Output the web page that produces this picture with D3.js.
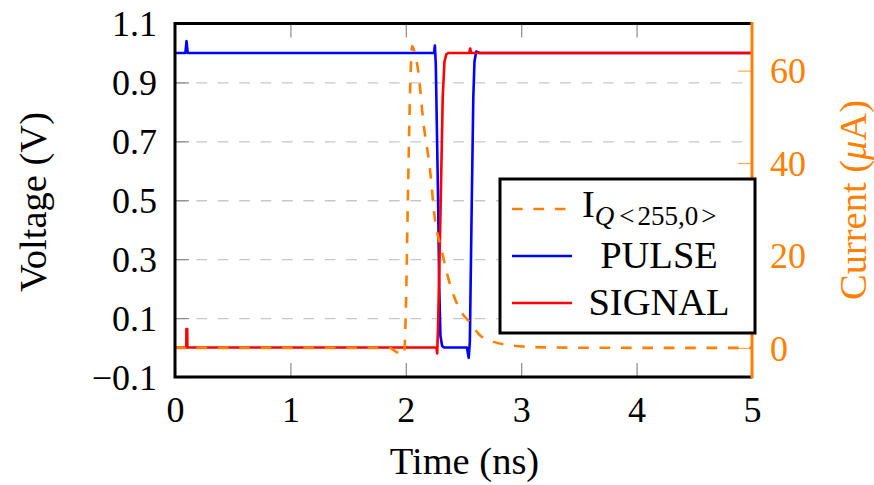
<!DOCTYPE html>
<html>
<head>
<meta charset="utf-8">
<script src="https://cdn.jsdelivr.net/npm/d3@7"></script>
<style>
  html, body { margin: 0; padding: 0; background: #fff; }
  svg text { font-family: "Liberation Serif", "Times New Roman", serif; }
</style>
</head>
<body>
<svg id="chart" width="874" height="485"></svg>
<script>
// Time axis (ns)
const timeTicks = [0, 1, 2, 3, 4, 5];
// Voltage axis (V)
const voltTicks = [-0.1, 0.1, 0.3, 0.5, 0.7, 0.9, 1.1];
const voltGrid = [0.1, 0.3, 0.5, 0.7, 0.9];
// Current axis (µA)
const currTicks = [0, 20, 40, 60];

// PULSE waveform (V)
const pulseT = [0, 0.09, 0.10, 0.11, 2.245, 2.252, 2.26, 2.28, 2.29, 2.30, 2.315, 2.335, 2.53, 2.545, 2.555, 2.57, 2.585, 2.595, 2.61, 2.64, 5];
const pulseV = [1, 1, 1.04, 1, 1, 1.025, 0.96, 0.5, 0.2, 0.04, 0.005, 0, 0, -0.035, 0.02, 0.45, 0.85, 0.97, 1.005, 1, 1];

// SIGNAL waveform (V)
const signalT = [0, 0.098, 0.099, 0.106, 0.107, 2.265, 2.272, 2.28, 2.30, 2.32, 2.335, 2.35, 2.37, 2.55, 2.558, 2.566, 5];
const signalV = [0, 0, 0.063, 0.063, 0, 0, -0.02, 0.08, 0.45, 0.85, 0.97, 0.995, 1, 1, 1.015, 1, 1];

// Cell current I_Q<255,0> (µA)
const currT = [0, 1.86, 1.92, 1.985, 2.0, 2.02, 2.04, 2.055, 2.07, 2.09, 2.11, 2.15, 2.21, 2.25, 2.31, 2.38, 2.47, 2.56, 2.64, 2.76, 2.9, 3.05, 3.3, 3.7, 5];
const currI = [0, 0, -0.9, -1.5, 8, 35, 58, 65.3, 64.5, 62.5, 59.5, 49.3, 38.5, 28.3, 21.2, 14, 8.2, 5.4, 2.8, 1.3, 0.6, 0.25, 0.08, 0.02, 0];

const legendLabels = ["I", "PULSE", "SIGNAL"];

const ORANGE = "#ff8000", BLUE = "#0000ff", RED = "#ff0000";
const FS = 36;      // tick labels
const FS_T = 38.5;  // titles and legend

const svg = d3.select("#chart");
const L = 175, R = 752, T = 23.5, B = 377;

const x = d3.scaleLinear().domain([0, 5]).range([L, R]);
const y = d3.scaleLinear().domain([-0.1, 1.1]).range([B, T]);
const yc = d3.scaleLinear().domain([-6.3, 70.2]).range([B, T]);

// horizontal dashed grid
svg.append("g")
  .attr("transform", `translate(${L},0)`)
  .call(d3.axisLeft(y).tickValues(voltGrid).tickSize(-(R - L)).tickFormat(""))
  .call(g => g.select(".domain").remove())
  .call(g => g.selectAll("line").attr("stroke", "#c8c8c8").attr("stroke-width", 1.3).attr("stroke-dasharray", "10.7,10.7"));

function styleAxis(g, color, tickColor) {
  g.select(".domain").remove();
  g.selectAll("line").attr("stroke", tickColor).attr("stroke-width", 1.2);
  g.selectAll("text").attr("fill", color).attr("font-size", FS)
    .attr("font-family", "'Liberation Serif', 'Times New Roman', serif");
}

// left voltage axis
svg.append("g")
  .attr("transform", `translate(${L},0)`)
  .call(d3.axisLeft(y).tickValues(voltTicks).tickSize(-14).tickPadding(18)
    .tickFormat(d => d3.format(".1f")(d).replace("-", "\u2212")))
  .call(g => styleAxis(g, "#000", "#8a8a8a"))
  .call(g => g.selectAll("text").attr("dy", "0.34em"));

// bottom time axis
svg.append("g")
  .attr("transform", `translate(0,${B})`)
  .call(d3.axisBottom(x).tickValues(timeTicks).tickSize(-14).tickPadding(19).tickFormat(d3.format("d")))
  .call(g => styleAxis(g, "#000", "#8a8a8a"));

// top mirrored ticks
svg.append("g")
  .attr("transform", `translate(0,${T})`)
  .call(d3.axisTop(x).tickValues(timeTicks.slice(1, -1)).tickSize(-14).tickFormat(""))
  .call(g => styleAxis(g, "#000", "#8a8a8a"));

// right current axis
svg.append("g")
  .attr("transform", `translate(${R},0)`)
  .call(d3.axisRight(yc).tickValues(currTicks).tickSize(-14).tickPadding(18).tickFormat(d3.format("d")))
  .call(g => styleAxis(g, ORANGE, "#ffa650"))
  .call(g => g.selectAll("text").attr("dy", "0.34em"));

// waveforms
const vLine = d3.line().x(d => x(d[0])).y(d => y(d[1]));
const cLine = d3.line().x(d => x(d[0])).y(d => yc(d[1])).curve(d3.curveMonotoneX);

svg.append("path").datum(d3.zip(pulseT, pulseV))
  .attr("d", vLine).attr("fill", "none").attr("stroke", BLUE).attr("stroke-width", 2.6).attr("stroke-linejoin", "round");
svg.append("path").datum(d3.zip(signalT, signalV))
  .attr("d", vLine).attr("fill", "none").attr("stroke", RED).attr("stroke-width", 2.6).attr("stroke-linejoin", "round");
svg.append("path").datum(d3.zip(currT, currI))
  .attr("d", cLine).attr("fill", "none").attr("stroke", ORANGE).attr("stroke-width", 2.6)
  .attr("stroke-dasharray", "10.7,10.7");

// frame
svg.append("path")
  .attr("d", `M${R},${T}H${L}V${B}H${R}`)
  .attr("fill", "none").attr("stroke", "#000").attr("stroke-width", 3);
svg.append("line")
  .attr("x1", R).attr("x2", R).attr("y1", T - 1.5).attr("y2", B + 1.5)
  .attr("stroke", ORANGE).attr("stroke-width", 3);

// axis titles
svg.append("text")
  .attr("transform", `translate(33,202) rotate(-90)`)
  .attr("text-anchor", "middle").attr("dominant-baseline", "central")
  .attr("font-size", FS_T).text("Voltage (V)");
svg.append("text")
  .attr("x", (L + R) / 2 + 1).attr("y", 474)
  .attr("text-anchor", "middle").attr("font-size", FS_T).text("Time (ns)");
const cur = svg.append("text")
  .attr("transform", `translate(853,200) rotate(-90)`)
  .attr("text-anchor", "middle").attr("dominant-baseline", "central")
  .attr("font-size", FS_T).attr("fill", ORANGE);
cur.append("tspan").text("Current (");
cur.append("tspan").attr("font-style", "italic").text("\u03bc");
cur.append("tspan").text("A)");

// legend
const lg = svg.append("g");
lg.append("rect")
  .attr("x", 500).attr("y", 179).attr("width", 255).attr("height", 154)
  .attr("fill", "#fff").attr("stroke", "#000").attr("stroke-width", 3);
const rowY = [209, 256, 303];
const rowColor = [ORANGE, BLUE, RED];
legendLabels.forEach((lab, i) => {
  lg.append("line")
    .attr("x1", 512).attr("x2", 572).attr("y1", rowY[i]).attr("y2", rowY[i])
    .attr("stroke", rowColor[i]).attr("stroke-width", 2.6)
    .attr("stroke-dasharray", i === 0 ? "10.7,10.7" : null);
  if (i === 0) {
    const t = lg.append("text").attr("x", 582).attr("y", 217).attr("font-size", FS_T);
    t.append("tspan").text(lab);
    t.append("tspan").attr("font-size", 27).attr("dy", 8).attr("font-style", "italic").text("Q");
    t.append("tspan").attr("font-size", 27).attr("dx", 5).text("<");
    t.append("tspan").attr("font-size", 27).attr("dx", 3).text("255,0");
    t.append("tspan").attr("font-size", 27).attr("dx", 3).text(">");
  } else {
    lg.append("text")
      .attr("x", 659).attr("y", rowY[i] + 12)
      .attr("text-anchor", "middle").attr("font-size", FS_T).text(lab);
  }
});
</script>
</body>
</html>
